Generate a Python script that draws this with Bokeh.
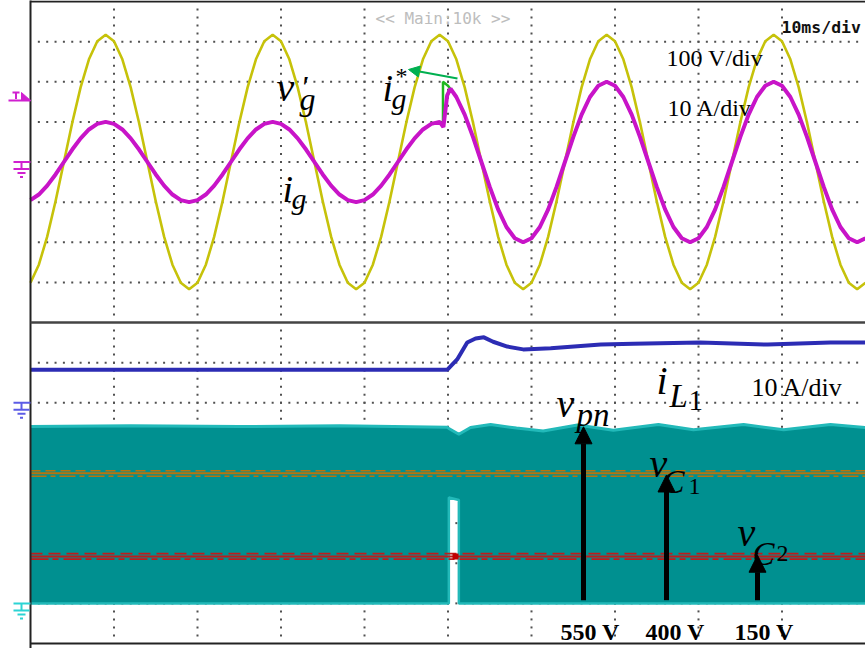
import numpy as np
from bokeh.plotting import figure
from bokeh.models import Range1d, Label, Arrow, NormalHead
from bokeh.embed import file_html
from bokeh.resources import INLINE

# ---------------- scope channel settings ----------------
MS_PER_DIV = 10          # time base
VG_PER_DIV = 100         # V/div   grid voltage v'g
IG_PER_DIV = 10          # A/div   grid current ig, reference ig*
IL_PER_DIV = 10          # A/div   inductor current iL1
VDC_PER_DIV = 125        # V/div   dc-link voltages vpn, vC1, vC2

# ---------------- captured traces ----------------
# grid voltage, sampled every 1 ms (V)
t_ms = list(range(0, 101))
vg_V = [
    -301, -256, -186, -98, 0, 98, 186, 256, 301, 317, 301, 256, 186, 98, 0, -98, -186, -256, -301, -317,
    -301, -256, -186, -98, 0, 98, 186, 256, 301, 317, 301, 256, 186, 98, 0, -98, -186, -256, -301, -317,
    -301, -256, -186, -98, 0, 98, 186, 256, 301, 317, 301, 256, 186, 98, 0, -98, -186, -256, -301, -317,
    -301, -256, -186, -98, 0, 98, 186, 256, 301, 317, 301, 256, 186, 98, 0, -98, -186, -256, -301, -317,
    -301, -256, -186, -98, 0, 98, 186, 256, 301, 317, 301, 256, 186, 98, 0, -98, -186, -256, -301, -317,
    -301,
]

# grid current before the load step, t = 0..49 ms (A)
ig_pre_A = [
    -9.5, -8.1, -5.9, -3.1, 0, 3.1, 5.9, 8.1, 9.5, 10, 9.5, 8.1, 5.9, 3.1, 0, -3.1, -5.9, -8.1, -9.5, -10,
    -9.5, -8.1, -5.9, -3.1, 0, 3.1, 5.9, 8.1, 9.5, 10, 9.5, 8.1, 5.9, 3.1, 0, -3.1, -5.9, -8.1, -9.5, -10,
    -9.5, -8.1, -5.9, -3.1, 0, 3.1, 5.9, 8.1, 9.5, 10,
]
# grid current after the load step, t = 50..100 ms (A)
ig_post_A = [
    19.0, 16.2, 11.8, 6.2, 0, -6.2, -11.8, -16.2, -19.0, -20,
    -19.0, -16.2, -11.8, -6.2, 0, 6.2, 11.8, 16.2, 19.0, 20, 19.0, 16.2, 11.8, 6.2, 0, -6.2, -11.8, -16.2, -19.0, -20,
    -19.0, -16.2, -11.8, -6.2, 0, 6.2, 11.8, 16.2, 19.0, 20, 19.0, 16.2, 11.8, 6.2, 0, -6.2, -11.8, -16.2, -19.0, -20,
    -19.0,
]
# samples around the step instant
ig_step_t = [49.45, 49.9, 50.3]
ig_step_A = [8.7, 16.6, 18.3]
igref_step_t = [49.4, 49.4]
igref_step_A = [9.8, 20.0]

# inductor current iL1 (A)
il_t = [0, 49.9, 51.1, 52.3, 53.3, 54.3, 55.4, 57.1, 59.0, 62.3, 68.3, 72.2, 80.2, 88.3, 95.8, 100]
il_A = [8.2, 8.2, 10.8, 15.0, 16.0, 16.3, 15.2, 14.0, 13.3, 13.6, 14.5, 14.7, 15.0, 14.5, 15.0, 15.0]

# dc-link voltage vpn: switching band between lower and upper envelope (V)
vpn_t = [0, 12, 25, 37, 49.9, 50.1, 50.1, 51.3, 51.3, 52.7, 55.1, 58.2, 61.4, 65.5, 69.8, 75.2, 79.4, 85.4, 90.2, 95.8, 100]
vpn_hi = [551, 553, 551, 553, 549, 545, 545, 527, 527, 548, 557, 546, 537, 556, 539, 557, 541, 557, 541, 557, 548]
vpn_lo = [0, 0, 0, 0, 0, 0, 330, 322, 0, 0, 0, 0, 0, 0, 0, 0, 0, 0, 0, 0, 0]

# capacitor voltages (V): mean level and spread of the trace
dc_t = [0, 100]
vc1_V = [405, 405]
vc1_spread = [396, 413]
vc2_V = [146, 146]
vc2_spread = [138, 155]
vc2_glitch = (50.9, 146)

# annotated dc levels
dc_labels = ["550 V", "400 V", "150 V"]
dc_values = [550, 400, 150]

# ---------------- screen geometry ----------------
W, H = 865, 648
LEFT = 30.0                 # graticule left edge, px
DIV_X = 83.5                # px per horizontal division
DIV_Y = 40.125              # px per vertical division
TOP = 1.0
SEP = TOP + 8 * DIV_Y       # split between the two panes
G_TOP = TOP + 4 * DIV_Y     # ground of v'g / ig
G_IL = SEP + 2 * DIV_Y      # ground of iL1
G_DC = SEP + 7 * DIV_Y      # ground of vpn, vC1, vC2


def px_x(px):
    return (px - LEFT) / DIV_X * MS_PER_DIV


def px_y(py):
    return (SEP - py) / DIV_Y


def chan_range(ground_px, per_div):
    return Range1d(start=(ground_px - H) / DIV_Y * per_div, end=ground_px / DIV_Y * per_div)


p = figure(width=W, height=H, output_backend="svg", toolbar_location=None,
           x_range=Range1d(px_x(0), px_x(W)), y_range=Range1d(px_y(H), px_y(0)),
           x_axis_type=None, y_axis_type=None, min_border=0,
           outline_line_color=None, background_fill_color="white", border_fill_color="white")
p.extra_y_ranges = {
    "vg": chan_range(G_TOP, VG_PER_DIV),
    "ig": chan_range(G_TOP, IG_PER_DIV),
    "il": chan_range(G_IL, IL_PER_DIV),
    "vdc": chan_range(G_DC, VDC_PER_DIV),
}

# ---------------- dotted graticule ----------------
dx, dy = [], []
for k in range(1, 16):
    if k == 8:
        continue
    yk = 8 - k
    for m in range(1, 100):
        dx.append(m * MS_PER_DIV / 10)
        dy.append(yk)
for c in range(1, 10):
    for j in range(1, 80):
        yj = 8 - j * 0.2
        if abs(yj) < 1e-9:
            continue
        dx.append(c * MS_PER_DIV)
        dy.append(yj)
p.scatter(dx, dy, marker="square", size=2, fill_color="#505050", line_color=None)

# ---------------- upper pane: v'g, ig*, ig ----------------
p.line(t_ms, vg_V, y_range_name="vg", line_color="#C6C20A", line_width=2.6)

igref_t = list(range(0, 50)) + igref_step_t + list(range(50, 101))
igref_A = ig_pre_A + igref_step_A + ig_post_A
p.line(igref_t, igref_A, y_range_name="ig", line_color="#1FB81F", line_width=2.5)

ig_t = list(range(0, 50)) + ig_step_t + list(range(51, 101))
ig_A = ig_pre_A + ig_step_A + ig_post_A[1:]
p.line(ig_t, ig_A, y_range_name="ig", line_color="#C814C8", line_width=4)

# ---------------- lower pane: iL1, vpn, vC1, vC2 ----------------
p.line(il_t, il_A, y_range_name="il", line_color="#2C2CB4", line_width=4)

p.varea(x=vpn_t, y1=vpn_lo, y2=vpn_hi, y_range_name="vdc", fill_color="#009090")
p.line(vpn_t, vpn_hi, y_range_name="vdc", line_color="#22B9B9", line_width=3)
p.line(vpn_t, vpn_lo, y_range_name="vdc", line_color="#22B9B9", line_width=2.5)

p.line(dc_t, [vc1_spread[1]] * 2, y_range_name="vdc", line_color="#B8740E", line_width=1.6, line_dash="10 5")
p.line(dc_t, [vc1_spread[0]] * 2, y_range_name="vdc", line_color="#B8740E", line_width=1.6, line_dash="16 4 5 4")
p.line(dc_t, vc1_V, y_range_name="vdc", line_color="#B8740E", line_width=2)

p.line(dc_t, [vc2_spread[1]] * 2, y_range_name="vdc", line_color="#BE1C1C", line_width=1.6, line_dash="12 6")
p.line(dc_t, [vc2_spread[0]] * 2, y_range_name="vdc", line_color="#BE1C1C", line_width=1.6, line_dash="18 4 6 5")
p.line(dc_t, vc2_V, y_range_name="vdc", line_color="#BE1C1C", line_width=2)
p.scatter([vc2_glitch[0]], [vc2_glitch[1]], y_range_name="vdc", marker="square", size=6,
          fill_color="#C00000", line_color=None)

# ---------------- frame ----------------
p.line([0, 0], [8.05, -8.2], line_color="#222222", line_width=2)
p.line([0, 100], [8, 8], line_color="#222222", line_width=2)
p.line([0, 100], [-8, -8], line_color="#222222", line_width=2)
p.line([0, 100], [0, 0], line_color="#444444", line_width=2.5)


# ---------------- channel markers on the left ----------------
def ground_symbol(gy, color):
    xs = [[13, 30], [21, 21], [13, 29], [17, 25], [19.5, 22.5]]
    ys = [[gy, gy], [gy, gy + 7], [gy + 7, gy + 7], [gy + 11, gy + 11], [gy + 15, gy + 15]]
    p.multi_line([[px_x(a) for a in x] for x in xs], [[px_y(b) for b in y] for y in ys],
                 line_color=color, line_width=2)


ground_symbol(G_TOP, "#D020D0")
ground_symbol(G_IL, "#5C5CE6")
ground_symbol(G_DC, "#2CD4D4")

trig_y = 100
p.multi_line([[px_x(12), px_x(19)], [px_x(15.5), px_x(15.5)], [px_x(8), px_x(30)]],
             [[px_y(trig_y - 8), px_y(trig_y - 8)], [px_y(trig_y - 8), px_y(trig_y - 1.5)],
              [px_y(trig_y), px_y(trig_y)]],
             line_color="#D020D0", line_width=2)
p.patch([px_x(21), px_x(21), px_x(30)], [px_y(trig_y - 8), px_y(trig_y), px_y(trig_y)],
        fill_color="#D020D0", line_color="#D020D0")

# ---------------- arrows ----------------
p.add_layout(Arrow(end=NormalHead(size=11, fill_color="#00B050", line_color="#00B050"),
                   x_start=px_x(457), y_start=px_y(78), x_end=px_x(408), y_end=px_y(69),
                   line_color="#00B050", line_width=2))

arrow_x_px = [583, 666, 757]
for xpx, val in zip(arrow_x_px, dc_values):
    p.add_layout(Arrow(end=NormalHead(size=17, fill_color="black", line_color="black"),
                       x_start=px_x(xpx), y_start=10, x_end=px_x(xpx), y_end=val,
                       y_range_name="vdc", line_color="black", line_width=5))


# ---------------- text ----------------
def lab(text, px, py, size, font="Liberation Serif", style="normal", color="black"):
    p.add_layout(Label(x=px_x(px), y=px_y(py), text=text, text_font=font,
                       text_font_size=f"{size}px", text_font_style=style, text_color=color,
                       text_baseline="alphabetic", text_align="left"))


lab("<< Main:10k >>", 375, 18, 16, font="DejaVu Sans Mono", color="#BDBDBD")
lab("10ms/div", 781, 27, 16.5, font="DejaVu Sans Mono", style="bold", color="#111111")

lab("100 V/div", 666, 57, 24)
lab("10 A/div", 667, 107, 24)
lab("10 A/div", 751, 387, 26)

# v'g
lab("v", 276, 87, 40, style="italic")
lab("\u2032", 300, 86, 32, style="italic")
lab("g", 299, 98, 32, style="italic")
# ig*
lab("i", 382, 87, 38, style="italic")
lab("*", 395, 75, 24)
lab("g", 391, 98, 30, style="italic")
# ig
lab("i", 282, 188, 38, style="italic")
lab("g", 291, 198, 30, style="italic")
# iL1
lab("i", 656, 380, 40, style="italic")
lab("L", 669, 395, 33, style="italic")
lab("1", 688, 400, 29)
# vpn
lab("v", 556, 403, 40, style="italic")
lab("pn", 576, 414, 33, style="italic")
# vC1
lab("v", 649, 463, 40, style="italic")
lab("C", 662, 481, 33, style="italic")
lab("1", 688, 486, 24)
# vC2
lab("v", 737, 532, 40, style="italic")
lab("C", 752, 553, 33, style="italic")
lab("2", 776, 553, 24)

for xpx, txt in zip([560, 645, 734], dc_labels):
    lab(txt, xpx, 631, 24, style="bold")

open("out.html", "w").write(file_html(p, INLINE))
